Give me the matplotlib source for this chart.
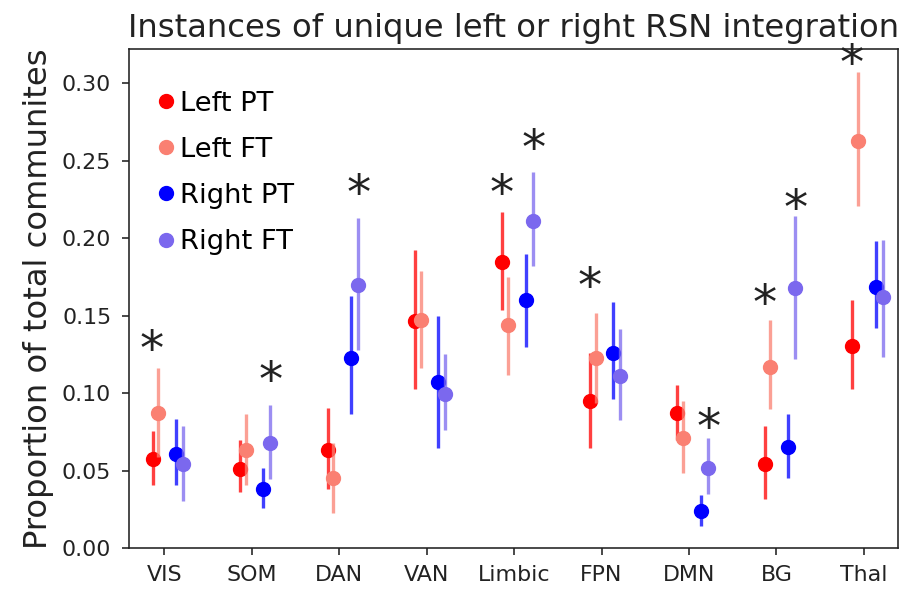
import matplotlib
matplotlib.use("Agg")
import matplotlib.pyplot as plt
import matplotlib.transforms as mtransforms
from matplotlib.lines import Line2D
from matplotlib.ticker import FormatStrFormatter
import numpy as np

# ----------------------------------------------------------------------------
# Data
# ----------------------------------------------------------------------------
NETWORKS = ["VIS", "SOM", "DAN", "VAN", "Limbic", "FPN", "DMN", "BG", "Thal"]
SERIES = ["Left PT", "Left FT", "Right PT", "Right FT"]

left_pt_mean = [0.0573, 0.0513, 0.0634, 0.1468, 0.1845, 0.0950, 0.0875, 0.0547, 0.1306]
left_pt_lo   = [0.0407, 0.0364, 0.0380, 0.1030, 0.1540, 0.0648, 0.0700, 0.0315, 0.1030]
left_pt_hi   = [0.0756, 0.0698, 0.0907, 0.1925, 0.2170, 0.1260, 0.1054, 0.0789, 0.1600]

left_ft_mean = [0.0875, 0.0632, 0.0455, 0.1470, 0.1440, 0.1226, 0.0713, 0.1170, 0.2625]
left_ft_lo   = [0.0590, 0.0407, 0.0228, 0.1160, 0.1120, 0.0940, 0.0483, 0.0900, 0.2207]
left_ft_hi   = [0.1160, 0.0864, 0.0680, 0.1790, 0.1750, 0.1515, 0.0950, 0.1470, 0.3070]

right_pt_mean = [0.0606, 0.0384, 0.1230, 0.1070, 0.1600, 0.1260, 0.0239, 0.0653, 0.1687]
right_pt_lo   = [0.0407, 0.0257, 0.0868, 0.0648, 0.1300, 0.0961, 0.0142, 0.0455, 0.1418]
right_pt_hi   = [0.0836, 0.0519, 0.1627, 0.1500, 0.1900, 0.1590, 0.0343, 0.0864, 0.1980]

right_ft_mean = [0.0545, 0.0681, 0.1698, 0.0994, 0.2110, 0.1110, 0.0515, 0.1680, 0.1618]
right_ft_lo   = [0.0304, 0.0450, 0.1280, 0.0763, 0.1820, 0.0826, 0.0351, 0.1224, 0.1235]
right_ft_hi   = [0.0789, 0.0925, 0.2128, 0.1250, 0.2427, 0.1414, 0.0713, 0.2140, 0.1990]

# significance markers: network index, which hemisphere pair, height
star_network = [0, 1, 2, 4, 4, 5, 6, 7, 7, 8]
star_side    = ["left", "right", "right", "left", "right", "left", "right", "left", "right", "left"]
star_y       = [0.133, 0.113, 0.2334, 0.2334, 0.2625, 0.1731, 0.0826, 0.1623, 0.2237, 0.317]

# ----------------------------------------------------------------------------
# Style
# ----------------------------------------------------------------------------
COLORS = ["red", "salmon", "blue", "mediumslateblue"]
OFFSETS = [-0.133, -0.069, 0.134, 0.214]
STAR_DX = {"left": -0.14, "right": 0.22}
S = 1.45  # the reference looks like a default figure rendered at ~1.45x

plt.rcParams.update({
    "axes.linewidth": 0.8 * S,
    "xtick.major.size": 3.5 * S,
    "ytick.major.size": 3.5 * S,
    "xtick.major.width": 0.8 * S,
    "ytick.major.width": 0.8 * S,
    "xtick.major.pad": 3.5 * S + 2,
    "ytick.major.pad": 5.5 * S,
    "axes.edgecolor": "#222222",
})


def main():
    fig = plt.figure(figsize=(9.01, 5.90), dpi=100)
    ax = fig.add_axes([0.1435, 0.0706, 0.8532, 0.8464])

    means = [left_pt_mean, left_ft_mean, right_pt_mean, right_ft_mean]
    los = [left_pt_lo, left_ft_lo, right_pt_lo, right_ft_lo]
    his = [left_pt_hi, left_ft_hi, right_pt_hi, right_ft_hi]

    x = np.arange(len(NETWORKS))
    for m, lo, hi, col, dx in zip(means, los, his, COLORS, OFFSETS):
        m = np.asarray(m)
        yerr = np.vstack([m - np.asarray(lo), np.asarray(hi) - m])
        ax.errorbar(x + dx, m, yerr=yerr, fmt="none", ecolor=col,
                    elinewidth=2.4, alpha=0.75)
        ax.plot(x + dx, m, "o", color=col, markersize=10, linestyle="none")

    star_tr = mtransforms.offset_copy(ax.transData, fig=fig, y=-4, units="dots")
    for n, side, y in zip(star_network, star_side, star_y):
        ax.text(n + STAR_DX[side], y, "*", fontsize=24 * S, ha="center",
                va="center_baseline", color="#222222", transform=star_tr)

    ax.set_xticks(x)
    ax.set_xticklabels(NETWORKS)
    ax.set_xlim(-0.40, 8.39)
    ax.set_ylim(0, 0.322)
    ax.set_yticks([0.00, 0.05, 0.10, 0.15, 0.20, 0.25, 0.30])
    ax.yaxis.set_major_formatter(FormatStrFormatter("%.2f"))
    ax.tick_params(labelsize=11 * S, colors="#222222")
    ax.set_ylabel("Proportion of total communites", fontsize=16 * S,
                  labelpad=4 * S, color="#222222")
    ax.set_title("Instances of unique left or right RSN integration",
                 fontsize=16 * S, pad=6 * S, color="#222222")

    handles = [Line2D([], [], marker="o", linestyle="none", color=c,
                      markersize=10) for c in COLORS]
    ax.legend(handles, SERIES, loc="upper left", frameon=False,
              fontsize=19.7, handlelength=1.0, handletextpad=0.0,
              labelspacing=0.74, borderaxespad=0,
              bbox_to_anchor=(0.016, 0.9387))

    fig.savefig("out.png", dpi=100)
    plt.close(fig)


if __name__ == "__main__":
    main()
